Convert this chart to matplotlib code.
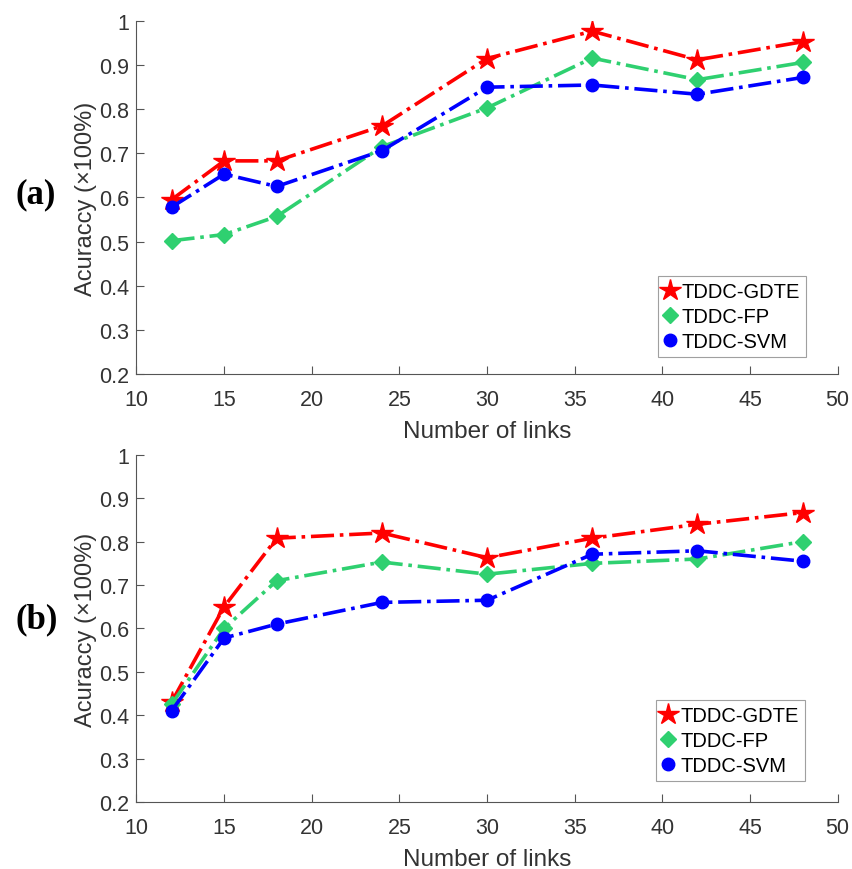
import matplotlib
matplotlib.use("Agg")
from matplotlib import pyplot as plt

links = [12, 15, 18, 24, 30, 36, 42, 48]

# panel (a)
gdte_a = [0.595, 0.683, 0.683, 0.762, 0.915, 0.977, 0.912, 0.953]
fp_a = [0.502, 0.516, 0.557, 0.715, 0.803, 0.916, 0.867, 0.906]
svm_a = [0.578, 0.653, 0.625, 0.706, 0.850, 0.855, 0.834, 0.872]

# panel (b)
gdte_b = [0.430, 0.650, 0.808, 0.820, 0.763, 0.808, 0.840, 0.867]
fp_b = [0.425, 0.600, 0.710, 0.753, 0.725, 0.750, 0.760, 0.800]
svm_b = [0.410, 0.578, 0.610, 0.660, 0.665, 0.771, 0.779, 0.755]

panel_labels = ["(a)", "(b)"]
series_names = ["TDDC-GDTE", "TDDC-FP", "TDDC-SVM"]
xticks = [10, 15, 20, 25, 30, 35, 40, 45, 50]
yticks = [0.2, 0.3, 0.4, 0.5, 0.6, 0.7, 0.8, 0.9, 1.0]
ytick_labels = ["0.2", "0.3", "0.4", "0.5", "0.6", "0.7", "0.8", "0.9", "1"]

plt.rcParams['font.family'] = ['Liberation Sans', 'DejaVu Sans']

RED = '#ff0000'
GREEN = '#2fd070'
BLUE = '#0000ff'


def draw_panel(ax, gdte, fp, svm, label, label_y, legend_anchor):
    ax.plot(links, gdte, '-.', color=RED, lw=2.6, marker='*', ms=16,
            label=series_names[0])
    ax.plot(links, fp, '-.', color=GREEN, lw=2.6, marker='D', ms=8,
            label=series_names[1])
    ax.plot(links, svm, '-.', color=BLUE, lw=2.6, marker='o', ms=9,
            label=series_names[2])

    ax.set_xlim(10, 50)
    ax.set_ylim(0.2, 1.0)
    ax.set_xticks(xticks)
    ax.set_yticks(yticks)
    ax.set_yticklabels(ytick_labels)
    ax.spines['top'].set_visible(False)
    ax.spines['right'].set_visible(False)
    for s in ('left', 'bottom'):
        ax.spines[s].set_color('#555555')
        ax.spines[s].set_linewidth(0.8)
    ax.tick_params(direction='in', length=6, width=0.8, colors='#555555',
                   labelcolor='#333333', labelsize=15.5)
    ax.tick_params(axis='x', pad=11)
    ax.tick_params(axis='y', pad=5)

    ax.set_xlabel("Number of links", fontsize=17.5, color='#333333',
                  labelpad=7)
    ax.set_ylabel("Acuraccy (\u00d7100%)", fontsize=17, color='#333333')
    ax.yaxis.set_label_coords(-0.056, 0.5)

    leg = ax.legend(loc='lower right', bbox_to_anchor=legend_anchor,
                    fontsize=14.5, frameon=True, fancybox=False,
                    handlelength=0.6, handletextpad=0.3, borderpad=0.3,
                    labelspacing=0.3, borderaxespad=0.0)
    leg.get_frame().set_edgecolor('#888888')
    leg.get_frame().set_linewidth(0.8)
    for line in leg.get_lines():
        line.set_linestyle('')

    ax.text(-0.173, label_y, label, transform=ax.transAxes, fontsize=25,
            fontweight='bold', family='Liberation Serif', va='center',
            ha='left')


fig = plt.figure(figsize=(8.53, 8.70), dpi=100)
ax1 = fig.add_axes([0.160, 0.569, 0.822, 0.4057])
ax2 = fig.add_axes([0.160, 0.077, 0.822, 0.399])

draw_panel(ax1, gdte_a, fp_a, svm_a, panel_labels[0], 0.51, (0.955, 0.048))
draw_panel(ax2, gdte_b, fp_b, svm_b, panel_labels[1], 0.527, (0.953, 0.06))

fig.savefig("out.png", dpi=100)
